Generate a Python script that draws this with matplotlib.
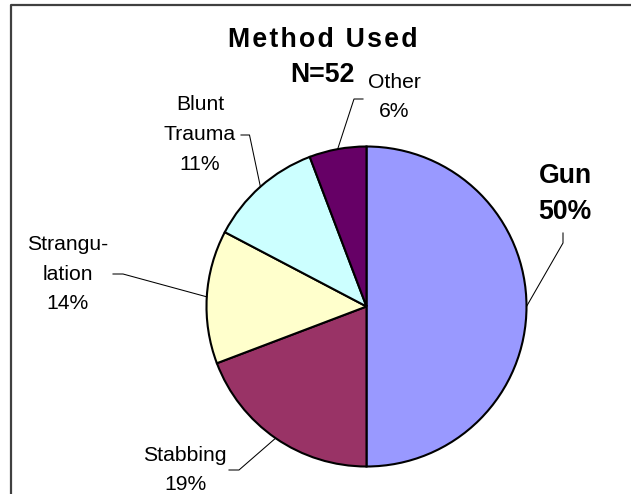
import numpy as np
import matplotlib
matplotlib.use("Agg")
import matplotlib.pyplot as plt

# ---- data ----
categories = ["Gun", "Stabbing", "Strangulation", "Blunt Trauma", "Other"]
counts = [26, 10, 7, 6, 3]          # N = 52
label_texts = ["Gun\n50%", "Stabbing\n19%", "Strangu-\nlation\n14%", "Blunt\nTrauma\n11%", "Other\n6%"]
colors = ["#9999FF", "#993366", "#FFFFCC", "#CCFFFF", "#660066"]
title_lines = ["Method Used", "N=52"]

W, H = 631, 494
plt.rcParams['font.family'] = ['Liberation Sans', 'DejaVu Sans']
fig = plt.figure(figsize=(W / 100, H / 100), dpi=100)
ax = fig.add_axes([0, 0, 1, 1])

def Y(y):  # image y (down) -> data y (up)
    return H - y

cx, cy, R = 366.5, Y(306.5), 160
wedges, _ = ax.pie(counts, colors=colors, startangle=90, counterclock=False,
                   center=(cx, cy), radius=R,
                   wedgeprops=dict(edgecolor="black", linewidth=1.5))
ax.set_xlim(0, W)
ax.set_ylim(0, H)
ax.set_aspect("equal")
ax.axis("off")

# frame (top and left visible)
ax.plot([11, 11, W], [0, Y(5), Y(5)], color="#404040", lw=1.6, solid_capstyle="butt")

# labels: (text centre x, centre y, elbow point, end point) in image pixels
layout = [
    dict(pos=(565, 194), elbow=(563, 243), end=(563, 233), bold=True, size=19.2, ls=1.53),
    dict(pos=(185, 470), elbow=(239, 470), end=(229, 470), bold=False, size=15.2, ls=1.72),
    dict(pos=(68, 274), elbow=(123, 274), end=(113, 274), bold=False, size=15.2, ls=1.72),
    dict(pos=(200, 134.5), elbow=(249.5, 135), end=(241, 135), bold=False, size=15.2, ls=1.72),
    dict(pos=(394, 97), elbow=(354, 99), end=(363, 99), bold=False, size=15.2, ls=1.72),
]

for w, txt, lay in zip(wedges, label_texts, layout):
    mid = np.deg2rad((w.theta1 + w.theta2) / 2)
    px, py = cx + R * np.cos(mid), cy + R * np.sin(mid)
    ex, ey = lay["elbow"]
    tx, ty = lay["end"]
    ax.plot([px, ex, tx], [py, Y(ey), Y(ty)], color="black", lw=0.75)
    ax.text(lay["pos"][0], Y(lay["pos"][1]), txt, ha="center", va="center",
            fontsize=lay["size"], fontweight="bold" if lay["bold"] else "normal",
            linespacing=lay["ls"])

hs = "\u200a"
title1 = hs.join(list(title_lines[0]))
ax.text(323, Y(40), title1, ha="center", va="center", fontsize=19.2, fontweight="bold")
ax.text(323, Y(75), title_lines[1], ha="center", va="center", fontsize=19.2, fontweight="bold")

fig.savefig("out.png", dpi=100)
